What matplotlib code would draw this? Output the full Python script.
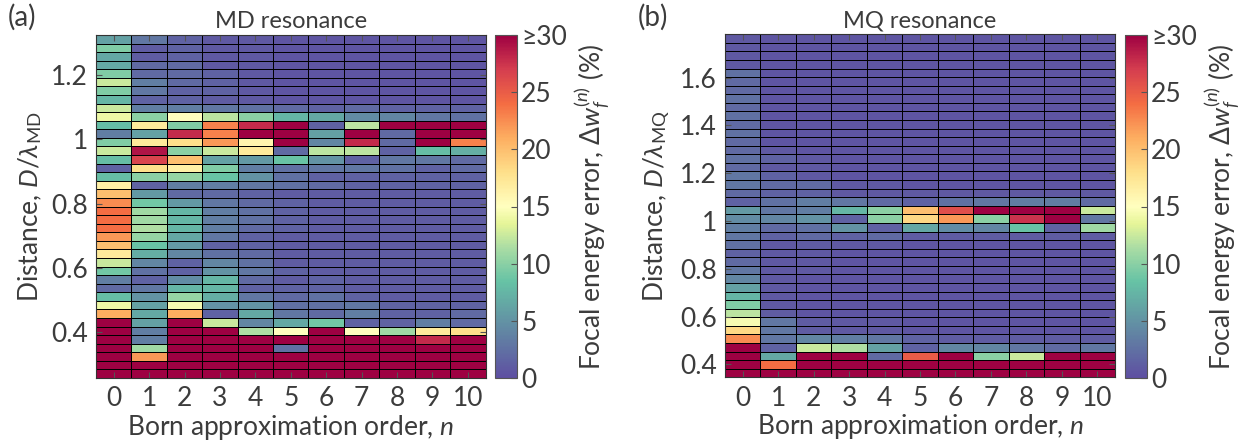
import numpy as np
import matplotlib
matplotlib.use("Agg")
import matplotlib.pyplot as plt
from matplotlib.colors import LinearSegmentedColormap

plt.rcParams['font.family'] = ['Lato', 'DejaVu Sans']
plt.rcParams['mathtext.fontset'] = 'custom'
plt.rcParams['mathtext.rm'] = 'Lato'
plt.rcParams['mathtext.it'] = 'Lato:italic'
plt.rcParams['mathtext.bf'] = 'Lato:bold'

TXT = '#3c3c3c'

# Born approximation orders (columns)
orders = list(range(11))

# D/lambda ranges covered by the two maps (40 rows each)
md_range = (0.258, 1.324)
mq_range = (0.3456, 1.781)

# focal energy error (%), rows listed from the top of the map (largest D) downwards
md_error = [
    [6, 3, 1.5, 0.8, 0.8, 0.5, 0.5, 0.5, 0.5, 0.5, 0.5],
    [9.5, 1, 1.5, 0.8, 0.8, 0.5, 0.5, 0.5, 0.5, 0.5, 0.5],
    [6.5, 1, 1.5, 0.8, 0.8, 0.5, 0.5, 0.5, 0.5, 0.5, 0.5],
    [6.5, 2, 2, 0.8, 0.8, 0.5, 0.5, 0.5, 0.5, 0.5, 0.5],
    [9.5, 2, 2, 1.5, 0.8, 0.5, 0.5, 0.5, 0.5, 0.5, 0.5],
    [12.5, 3.5, 2, 1.5, 0.8, 0.5, 0.5, 0.5, 0.5, 0.5, 0.5],
    [9.5, 3, 1.5, 1.5, 0.8, 0.5, 0.5, 0.5, 0.5, 0.5, 0.5],
    [7.5, 1.5, 1.5, 1, 0.8, 0.5, 0.5, 0.5, 0.5, 0.5, 0.5],
    [12.5, 3.5, 3.5, 3, 2.5, 2, 1.5, 2, 1.5, 1.5, 1.5],
    [14, 10, 15, 12, 10, 7.5, 6.5, 4.5, 4, 3, 2.5],
    [8, 17, 9.5, 23, 28, 30, 1.5, 12, 30, 30, 30],
    [3.5, 6, 28, 23, 30, 30, 6, 30, 2, 30, 30],
    [9.5, 17, 18, 22, 16, 30, 4, 28, 2, 30, 23],
    [12.5, 29, 10, 12.5, 17, 2, 12, 12, 1.5, 8, 7],
    [8, 26.5, 20, 6, 5.5, 8.5, 5, 1.5, 3, 3, 2],
    [1.5, 18, 16.5, 9.5, 3.5, 2.5, 3, 3, 2.5, 1.5, 2],
    [8, 10, 10.5, 8.5, 5, 2.5, 1.5, 1.5, 1.5, 1.5, 1.5],
    [16.5, 1.5, 3.5, 3.5, 3, 2.5, 2, 1.5, 1.5, 1.5, 1.5],
    [20, 5.5, 2, 2, 1.5, 1, 1, 1, 1, 1, 1],
    [22.5, 9, 5.5, 3, 2, 1.5, 1, 1, 1, 1, 1],
    [24, 11, 7.5, 3.5, 2.5, 1.5, 1, 1, 1, 1, 1],
    [24, 11, 7.5, 3.5, 2.5, 1.5, 1, 1, 1, 1, 1],
    [24, 11.5, 7.5, 3.5, 2, 1.5, 1, 1, 1, 1, 1],
    [22, 10.5, 6.5, 3, 1.5, 1, 1, 1, 1, 1, 1],
    [20, 8.5, 5.5, 1.5, 1.5, 1, 1, 1, 1, 1, 1],
    [17, 7, 4, 2.5, 2, 1, 1, 1, 1, 1, 1],
    [12.5, 4, 1.5, 4, 2.5, 1, 1, 1, 1, 1, 1],
    [9, 2.5, 1.5, 5, 3, 1.5, 1, 1, 1, 1, 1],
    [3.5, 1.5, 4.5, 7.5, 2, 1, 1.5, 1, 1, 1, 1],
    [2, 3, 7.5, 7.5, 1.5, 1.5, 1.5, 1, 1, 1, 1],
    [8, 5, 10.5, 7, 3, 2, 2.5, 1.5, 1, 1, 1],
    [14, 6, 14.5, 5, 5, 2.5, 2.5, 3, 1.5, 1.5, 1.5],
    [21, 6.5, 21, 1.5, 6.5, 3, 2, 3.5, 1.5, 1.5, 2],
    [30, 6, 30, 12.5, 4, 6.5, 9, 1.5, 1.5, 3.5, 2],
    [30, 3.5, 30, 30, 11.5, 15, 30, 15, 11, 17, 18],
    [30, 3.5, 30, 30, 30, 30, 30, 30, 30, 28, 30],
    [30, 11, 30, 30, 30, 2.5, 30, 30, 30, 30, 30],
    [30, 22, 30, 30, 30, 30, 30, 30, 30, 30, 30],
    [30, 30, 30, 30, 30, 30, 30, 30, 30, 30, 30],
    [30, 30, 30, 30, 30, 30, 30, 30, 30, 30, 30],
]

mq_error = [
    [0.8, 0.5, 0.5, 0.5, 0.5, 0.5, 0.5, 0.5, 0.5, 0.5, 0.5],
    [0.8, 0.5, 0.5, 0.5, 0.5, 0.5, 0.5, 0.5, 0.5, 0.5, 0.5],
    [0.8, 0.5, 0.5, 0.5, 0.5, 0.5, 0.5, 0.5, 0.5, 0.5, 0.5],
    [0.8, 0.5, 0.5, 0.5, 0.5, 0.5, 0.5, 0.5, 0.5, 0.5, 0.5],
    [2.5, 0.5, 0.5, 0.5, 0.5, 0.5, 0.5, 0.5, 0.5, 0.5, 0.5],
    [2, 0.5, 0.5, 0.5, 0.5, 0.5, 0.5, 0.5, 0.5, 0.5, 0.5],
    [2, 0.5, 0.5, 0.5, 0.5, 0.5, 0.5, 0.5, 0.5, 0.5, 0.5],
    [2.5, 0.5, 0.5, 0.5, 0.5, 0.5, 0.5, 0.5, 0.5, 0.5, 0.5],
    [2, 0.5, 0.5, 0.5, 0.5, 0.5, 0.5, 0.5, 0.5, 0.5, 0.5],
    [2.5, 0.5, 0.5, 0.5, 0.5, 0.5, 0.5, 0.5, 0.5, 0.5, 0.5],
    [2, 0.5, 0.5, 0.5, 0.5, 0.5, 0.5, 0.5, 0.5, 0.5, 0.5],
    [2.5, 0.5, 0.5, 0.5, 0.5, 0.5, 0.5, 0.5, 0.5, 0.5, 0.5],
    [2, 0.5, 0.5, 0.5, 0.5, 0.5, 0.5, 0.5, 0.5, 0.5, 0.5],
    [2, 0.8, 0.5, 0.5, 0.5, 0.5, 0.5, 0.5, 0.5, 0.5, 0.5],
    [2.5, 1.5, 0.8, 0.5, 0.5, 0.5, 0.5, 0.5, 0.5, 0.5, 0.5],
    [2, 0.8, 0.8, 0.5, 0.5, 0.5, 0.5, 0.5, 0.5, 0.5, 0.5],
    [3, 1.5, 0.8, 0.5, 0.5, 0.5, 0.5, 0.5, 0.5, 0.5, 0.5],
    [3, 2, 2, 0.8, 0.8, 0.5, 0.5, 0.5, 0.5, 0.5, 0.5],
    [2, 1.5, 1.5, 0.8, 0.8, 0.8, 0.8, 0.8, 0.8, 0.8, 0.8],
    [1.5, 2.5, 3.5, 3, 2, 1.5, 2.5, 3, 3.5, 3.5, 2],
    [5.5, 3, 3.5, 7.5, 10, 20, 26, 30, 30, 30, 12.5],
    [4.5, 4, 5, 1.5, 10, 18.5, 22, 10, 27.5, 30, 3],
    [3.5, 2, 2.5, 5, 1.5, 6.5, 4.5, 4, 8.5, 1.5, 11],
    [3, 1.5, 2, 1.5, 2, 1, 1, 1, 1, 1, 1],
    [2.5, 0.8, 1, 0.8, 0.8, 0.5, 0.5, 0.5, 0.5, 0.5, 0.5],
    [1.5, 0.8, 0.8, 0.5, 0.5, 0.5, 0.5, 0.5, 0.5, 0.5, 0.5],
    [2, 0.8, 0.8, 0.5, 0.5, 0.5, 0.5, 0.5, 0.5, 0.5, 0.5],
    [3, 0.8, 0.8, 0.5, 0.5, 0.5, 0.5, 0.5, 0.5, 0.5, 0.5],
    [4, 0.8, 0.5, 0.5, 0.5, 0.5, 0.5, 0.5, 0.5, 0.5, 0.5],
    [6, 0.8, 0.5, 0.5, 0.5, 0.5, 0.5, 0.5, 0.5, 0.5, 0.5],
    [7.5, 0.8, 0.5, 0.5, 0.5, 0.5, 0.5, 0.5, 0.5, 0.5, 0.5],
    [9.5, 0.8, 0.5, 0.5, 0.5, 0.5, 0.5, 0.5, 0.5, 0.5, 0.5],
    [12, 1, 0.5, 0.5, 0.5, 0.5, 0.5, 0.5, 0.5, 0.5, 0.5],
    [14.5, 3, 1, 0.8, 0.8, 0.5, 0.5, 0.5, 0.5, 0.5, 0.5],
    [18.5, 3, 1, 0.8, 0.8, 0.5, 0.5, 0.5, 0.5, 0.5, 0.5],
    [22.5, 3, 4, 3.5, 3, 1.5, 1, 1, 1, 1, 1],
    [30, 1.5, 12.5, 11.5, 6, 1.5, 4, 4, 3, 2, 3],
    [30, 6.5, 30, 30, 2, 25, 30, 10, 12.5, 30, 30],
    [30, 24, 30, 30, 30, 30, 30, 30, 30, 30, 30],
    [30, 30, 30, 30, 30, 30, 30, 30, 30, 30, 30],
]

cbar_ticks = [0, 5, 10, 15, 20, 25, 30]
cbar_labels = ['0', '5', '10', '15', '20', '25', '≥30']
md_yticks = [0.4, 0.6, 0.8, 1.0, 1.2]
mq_yticks = [0.4, 0.6, 0.8, 1.0, 1.2, 1.4, 1.6]

# Spectral-like map without the bright blue node
cmap = LinearSegmentedColormap.from_list('spec', [
    (0.0, '#5e4fa2'), (0.28, '#66c2a5'), (0.38, '#abdda4'), (0.45, '#e6f598'),
    (0.5, '#ffffbf'), (0.6, '#fee08b'), (0.7, '#fdae61'), (0.8, '#f46d43'),
    (0.9, '#d53e4f'), (1.0, '#9e0142')])


def fmt(v):
    return '1' if abs(v - 1) < 1e-9 else f'{v:.1f}'


def draw_panel(ax, cax, data, yrange, yticks, title, sub, tag, tag_x):
    z = np.flipud(np.array(data, dtype=float))
    nrow, ncol = z.shape
    xe = np.arange(ncol + 1) - 0.5
    ye = np.linspace(yrange[0], yrange[1], nrow + 1)
    m = ax.pcolormesh(xe, ye, z, cmap=cmap, vmin=0, vmax=30,
                      edgecolors='black', linewidth=0.6)
    ax.set_xlim(xe[0], xe[-1])
    ax.set_ylim(ye[0], ye[-1])
    ax.set_xticks(orders)
    ax.set_yticks(yticks)
    ax.set_yticklabels([fmt(v) for v in yticks])
    ax.tick_params(direction='in', top=True, right=True, length=4,
                   color='#555555', labelcolor=TXT, labelsize=19, pad=6)
    for s in ax.spines.values():
        s.set_color('#333333')
    ax.set_xlabel('Born approximation order, $n$', fontsize=19, color=TXT, labelpad=1)
    ax.set_ylabel('Distance, $D/\\lambda_{\\mathrm{%s}}$' % sub, fontsize=19,
                  color=TXT, labelpad=5)
    ax.set_title(title, fontsize=17, color=TXT, pad=5)
    ax.figure.text(tag_x, 0.962, tag, fontsize=20, color=TXT, va='center')

    cb = ax.figure.colorbar(m, cax=cax)
    cb.set_ticks(cbar_ticks)
    cb.set_ticklabels(cbar_labels)
    cb.ax.tick_params(direction='in', length=4, color='#555555',
                      labelcolor=TXT, labelsize=19, pad=3)
    cb.outline.set_edgecolor('#555555')
    cb.set_label('Focal energy error, $\\Delta w_f^{(n)}$ (%)', fontsize=19,
                 color=TXT, labelpad=3)


W, H = 1255, 446
fig = plt.figure(figsize=(W / 100, H / 100), dpi=100)
ax1 = fig.add_axes([96 / W, 68 / H, 389.5 / W, 343 / H])
cax1 = fig.add_axes([495 / W, 68 / H, 22 / W, 343 / H])
ax2 = fig.add_axes([725 / W, 68.7 / H, 390 / W, 343 / H])
cax2 = fig.add_axes([1125 / W, 68 / H, 22 / W, 343 / H])

draw_panel(ax1, cax1, md_error, md_range, md_yticks, 'MD resonance', 'MD', '(a)', 0.006)
draw_panel(ax2, cax2, mq_error, mq_range, mq_yticks, 'MQ resonance', 'MQ', '(b)', 0.508)

fig.savefig('out.png', dpi=100)
